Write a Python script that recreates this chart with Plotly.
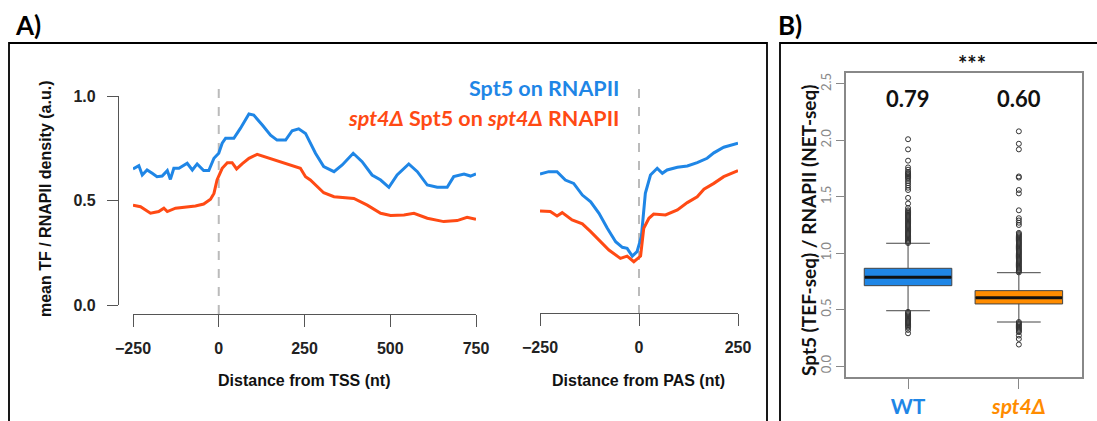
import plotly.graph_objects as go

# ---------------- data ----------------
TSS_POS = [-250, -233, -223, -209, -194, -180, -165, -150, -141, -131, -116, -102, -92, -77, -63, -44, -29, -14,
           0, 10, 20, 44, 63, 88, 102, 127, 151, 170, 195, 214, 233, 253, 258, 282, 306, 336, 360, 392, 418,
           447, 472, 496, 520, 554, 579, 608, 637, 666, 685, 715, 734, 750]
TSS_WT = [0.651, 0.667, 0.622, 0.646, 0.630, 0.614, 0.617, 0.643, 0.601, 0.654, 0.654, 0.670, 0.678, 0.646,
          0.675, 0.643, 0.643, 0.702, 0.726, 0.774, 0.798, 0.798, 0.845, 0.914, 0.909, 0.861, 0.813, 0.789,
          0.789, 0.834, 0.843, 0.821, 0.805, 0.726, 0.662, 0.638, 0.670, 0.726, 0.686, 0.622, 0.598, 0.563,
          0.622, 0.675, 0.638, 0.574, 0.563, 0.563, 0.614, 0.627, 0.617, 0.627]

TSS_POS_MUT = [-250, -228, -199, -175, -160, -150, -126, -97, -68, -44, -24, -14, -5, 10, 25, 39, 52, 68, 88,
               112, 146, 175, 204, 238, 253, 267, 306, 336, 394, 433, 472, 501, 540, 569, 608, 656, 695, 724, 750]
TSS_MUT = [0.478, 0.470, 0.439, 0.447, 0.463, 0.447, 0.463, 0.467, 0.474, 0.483, 0.506, 0.534, 0.598, 0.654,
           0.681, 0.681, 0.651, 0.675, 0.702, 0.721, 0.702, 0.686, 0.670, 0.654, 0.614, 0.598, 0.537, 0.518,
           0.510, 0.478, 0.439, 0.428, 0.431, 0.439, 0.415, 0.399, 0.404, 0.420, 0.410]

PAS_POS = [-250, -228, -207, -186, -165, -143, -122, -101, -80, -59, -42, -30, -17, -5, 6, 16, 29, 46, 59, 71,
           97, 122, 147, 172, 189, 214, 250]
PAS_WT = [0.627, 0.638, 0.638, 0.598, 0.582, 0.526, 0.494, 0.439, 0.367, 0.303, 0.276, 0.271, 0.234, 0.255,
          0.327, 0.534, 0.622, 0.654, 0.630, 0.646, 0.659, 0.665, 0.681, 0.702, 0.728, 0.755, 0.774]

PAS_POS_MUT = [-250, -224, -207, -194, -169, -143, -122, -97, -76, -47, -30, -13, 4, 12, 25, 37, 67, 97, 122,
               147, 164, 189, 214, 250]
PAS_MUT = [0.450, 0.447, 0.426, 0.442, 0.407, 0.388, 0.351, 0.303, 0.263, 0.223, 0.234, 0.207, 0.234, 0.367,
           0.415, 0.435, 0.431, 0.455, 0.490, 0.518, 0.554, 0.582, 0.614, 0.643]

TSS_TICKS = [-250, 0, 250, 500, 750]
PAS_TICKS = [-250, 0, 250]
Y_TICKS_A = [0.0, 0.5, 1.0]
MARK_POS = 0  # TSS / PAS reference position

# box plot (panel B)
GROUPS = ["WT", "spt4Δ"]
GROUP_X = [1, 2]
Q1 = [0.712, 0.550]
MEDIAN = [0.786, 0.606]
Q3 = [0.866, 0.668]
LOWER = [0.490, 0.390]
UPPER = [1.088, 0.827]
MEAN_LABELS = ["0.79", "0.60"]
WT_OUT = [2.01, 1.92, 1.82, 1.76, 1.74, 1.72, 1.71, 1.70, 1.69, 1.68, 1.67, 1.66, 1.64, 1.62, 1.60, 1.58, 1.56,
          1.49, 1.44, 1.40, 1.38, 1.37, 1.36, 1.35, 1.34, 1.33, 1.32, 1.31, 1.30, 1.29, 1.28, 1.27, 1.26, 1.25,
          1.24, 1.23, 1.22, 1.21, 1.20, 1.19, 1.18, 1.17, 1.16, 1.15, 1.14, 1.13, 1.12, 1.11, 1.10, 1.09,
          0.48, 0.47, 0.46, 0.45, 0.44, 0.43, 0.42, 0.41, 0.40, 0.39, 0.38, 0.37, 0.36, 0.35, 0.34, 0.32, 0.29]
MUT_OUT = [2.08, 1.97, 1.92, 1.68, 1.67, 1.56, 1.53, 1.38, 1.31, 1.29, 1.27, 1.25, 1.18, 1.17, 1.16, 1.15,
           1.14, 1.13, 1.12, 1.11, 1.10, 1.09, 1.08, 1.07, 1.06, 1.05, 1.04, 1.03, 1.02, 1.01, 1.00, 0.99, 0.98,
           0.97, 0.96, 0.95, 0.94, 0.93, 0.92, 0.91, 0.90, 0.89, 0.88, 0.87, 0.86, 0.85, 0.84, 0.83,
           0.39, 0.38, 0.37, 0.36, 0.35, 0.34, 0.33, 0.32, 0.31, 0.30, 0.27, 0.24, 0.19]
Y_TICKS_B = [0.0, 0.5, 1.0, 1.5, 2.0, 2.5]

# ---------------- styling ----------------
W, H = 1097, 421
def px(x):
    return x / W
def py(y):
    return 1 - y / H

BLUE = "#1F86E6"
RED = "#FF4A14"
ORANGE = "#FF8C00"
AX = "#555555"
ARIAL = "Liberation Sans"
CAL = "Lato"

fig = go.Figure()

fig.add_trace(go.Scatter(x=TSS_POS, y=TSS_WT, mode="lines", line=dict(color=BLUE, width=3),
                         xaxis="x", yaxis="y", showlegend=False))
fig.add_trace(go.Scatter(x=TSS_POS_MUT, y=TSS_MUT, mode="lines", line=dict(color=RED, width=3),
                         xaxis="x", yaxis="y", showlegend=False))
fig.add_trace(go.Scatter(x=PAS_POS, y=PAS_WT, mode="lines", line=dict(color=BLUE, width=3),
                         xaxis="x2", yaxis="y2", showlegend=False))
fig.add_trace(go.Scatter(x=PAS_POS_MUT, y=PAS_MUT, mode="lines", line=dict(color=RED, width=3),
                         xaxis="x2", yaxis="y2", showlegend=False))

box_colors = [BLUE, ORANGE]
for i in range(2):
    fig.add_trace(go.Box(x=[GROUP_X[i]], q1=[Q1[i]], median=[MEDIAN[i]], q3=[Q3[i]],
                         lowerfence=[LOWER[i]], upperfence=[UPPER[i]], width=0.79, whiskerwidth=0.5,
                         fillcolor=box_colors[i], line=dict(color="#444444", width=1),
                         boxpoints=False, xaxis="x3", yaxis="y3", showlegend=False, hoverinfo="skip"))
    fig.add_trace(go.Scatter(x=[GROUP_X[i] - 0.39, GROUP_X[i] + 0.39], y=[MEDIAN[i], MEDIAN[i]],
                             mode="lines", line=dict(color="#111111", width=3),
                             xaxis="x3", yaxis="y3", showlegend=False))
for i, outs in enumerate([WT_OUT, MUT_OUT]):
    fig.add_trace(go.Scatter(x=[GROUP_X[i]] * len(outs), y=outs, mode="markers",
                             marker=dict(symbol="circle-open", size=5, color="#333333", line=dict(width=1)),
                             xaxis="x3", yaxis="y3", showlegend=False))

tickfont_a = dict(family=ARIAL, size=16, color="#222222", weight="bold")

fig.update_layout(
    template="none",
    width=W, height=H, margin=dict(l=0, r=0, t=0, b=0, pad=0), autosize=False,
    paper_bgcolor="white", plot_bgcolor="rgba(0,0,0,0)",
    xaxis=dict(domain=[px(133), px(476)], range=[-250, 750], anchor="free", position=py(314),
               tickvals=TSS_TICKS, ticks="outside", ticklen=12, tickwidth=1.3, tickcolor=AX,
               showline=True, linecolor=AX, linewidth=1.3, showgrid=False, zeroline=False,
               tickfont=tickfont_a, ticklabelstandoff=8, automargin=False),
    yaxis=dict(domain=[py(305), py(96)], range=[0, 1], anchor="free", position=px(118),
               tickvals=Y_TICKS_A, ticktext=["%.1f" % v for v in Y_TICKS_A], ticks="outside", ticklen=11,
               tickwidth=1.3, tickcolor=AX, showline=True, linecolor=AX, linewidth=1.3,
               showgrid=False, zeroline=False, tickfont=tickfont_a, ticklabelstandoff=8, automargin=False),
    xaxis2=dict(domain=[px(540), px(738)], range=[-250, 250], anchor="free", position=py(313),
                tickvals=PAS_TICKS, ticks="outside", ticklen=12, tickwidth=1.3, tickcolor=AX,
                showline=True, linecolor=AX, linewidth=1.3, showgrid=False, zeroline=False,
                tickfont=tickfont_a, ticklabelstandoff=8, automargin=False),
    yaxis2=dict(domain=[py(305), py(96)], range=[0, 1], anchor="x2", visible=False, automargin=False),
    xaxis3=dict(domain=[px(846), px(1082)], range=[0.44, 2.57], anchor="y3",
                tickvals=GROUP_X,
                ticktext=["<span style='color:%s'>WT</span>" % BLUE,
                          "<span style='color:%s'><i>spt4Δ</i></span>" % ORANGE],
                ticks="outside", ticklen=10, tickcolor="#888888", showline=True, mirror=True,
                linecolor="#888888", linewidth=1.5, showgrid=False, zeroline=False,
                tickfont=dict(family=CAL, size=21, weight="bold"), automargin=False),
    yaxis3=dict(domain=[py(377), py(73)], range=[-0.0975, 2.597], anchor="x3",
                tickvals=Y_TICKS_B, ticktext=["%.1f" % v for v in Y_TICKS_B], tickangle=-90,
                ticks="outside", ticklen=8, tickcolor="#888888", showline=True, mirror=True,
                linecolor="#888888", linewidth=1.5, showgrid=False, zeroline=False,
                tickfont=dict(family=CAL, size=13, color="#888888"), automargin=False),
)

# reference dashed lines
for xr in ["x", "x2"]:
    fig.add_shape(type="line", xref=xr, yref="paper", x0=MARK_POS, x1=MARK_POS, y0=py(314), y1=py(87),
                  line=dict(color="#BBBBBB", width=2, dash="dash"), layer="below")

# panel frames
fig.add_shape(type="rect", xref="paper", yref="paper", x0=px(9), x1=px(767), y0=py(425), y1=py(43),
              line=dict(color="black", width=1.8))
fig.add_shape(type="rect", xref="paper", yref="paper", x0=px(780), x1=px(1100), y0=py(425), y1=py(43),
              line=dict(color="black", width=1.8))

ann = []
ann.append(dict(text="A)", x=px(13), y=py(25), xanchor="left", yanchor="middle",
                font=dict(family=CAL, size=26, color="black", weight="bold")))
ann.append(dict(text="B)", x=px(776), y=py(25), xanchor="left", yanchor="middle",
                font=dict(family=CAL, size=26, color="black", weight="bold")))
ann.append(dict(text="Spt5 on RNAPII", x=px(621), y=py(88), xanchor="right", yanchor="middle",
                font=dict(family=CAL, size=21.5, color=BLUE, weight="bold")))
ann.append(dict(text="<i>spt4Δ</i> Spt5 on <i>spt4Δ</i> RNAPII", x=px(621), y=py(118), xanchor="right",
                yanchor="middle", font=dict(family=CAL, size=21.5, color=RED, weight="bold")))
ann.append(dict(text="mean TF / RNAPII density (a.u.)", x=px(45), y=py(199), textangle=-90,
                xanchor="center", yanchor="middle", font=dict(family=ARIAL, size=16, color="#111111", weight="bold")))
ann.append(dict(text="Distance from TSS (nt)", x=px(304), y=py(380), xanchor="center", yanchor="middle",
                font=dict(family=ARIAL, size=16, color="#111111", weight="bold")))
ann.append(dict(text="Distance from PAS (nt)", x=px(638), y=py(380), xanchor="center", yanchor="middle",
                font=dict(family=ARIAL, size=16, color="#111111", weight="bold")))
ann.append(dict(text="Spt5 (TEF-seq) / RNAPII (NET-seq)", x=px(808), y=py(231), textangle=-90,
                xanchor="center", yanchor="middle", font=dict(family=CAL, size=19, color="#111111", weight="bold")))
ann.append(dict(text="***", x=px(972), y=py(63), xanchor="center", yanchor="middle",
                font=dict(family=CAL, size=22, color="#111111", weight="bold")))
for i in range(2):
    ann.append(dict(text=MEAN_LABELS[i], x=GROUP_X[i], xref="x3", y=py(98), yref="paper",
                    xanchor="center", yanchor="middle",
                    font=dict(family=CAL, size=22, color="#111111", weight="bold")))
for a in ann:
    a.setdefault("xref", "paper")
    a.setdefault("yref", "paper")
    a["showarrow"] = False
fig.update_layout(annotations=ann)

fig.write_html("out.html")
